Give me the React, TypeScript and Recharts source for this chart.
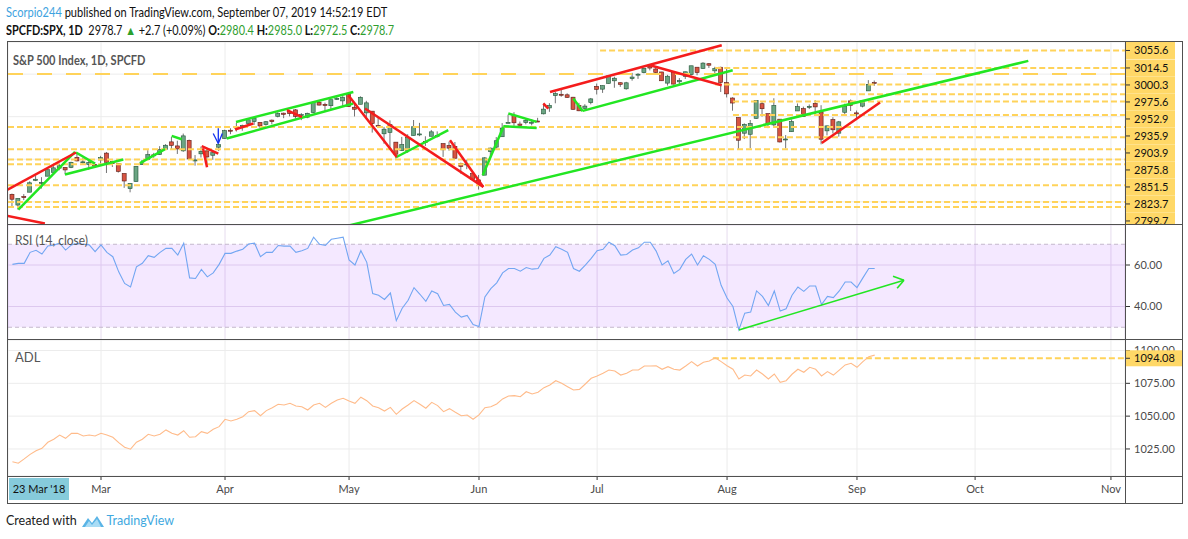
import React from "react";
import {
  ComposedChart,
  Bar,
  Line,
  XAxis,
  YAxis,
  CartesianGrid,
  ReferenceLine,
  ReferenceArea,
} from "recharts";

// ---- data (trading-day index 0 = 1 Mar 2019) ----
const FIRST = -15;
const MONTH_TICKS = [0, 21, 42, 64, 84, 106, 128, 148, 171];
const MONTH_LABELS = ["Mar", "Apr", "May", "Jun", "Jul", "Aug", "Sep", "Oct", "Nov"];

const OPEN = [
  2717.5, 2692.4, 2712.4, 2722.6, 2750.3, 2743.5, 2760.2, 2769.3, 2779.1, 2780.7, 2780.7, 2804.4, 2792.4, 2787.5, 2788.1,
  2798.2, 2814.4, 2794.4, 2790.3, 2766.5, 2730.8, 2747.6, 2787.3, 2799.8, 2810.4, 2810.8, 2822.6, 2840.8, 2831.3, 2819.7, 2844.5, 2796.0, 2812.7, 2819.7, 2809.4, 2828.3,
  2848.6, 2868.2, 2876.1, 2874.0, 2884.2, 2888.5, 2886.6, 2881.4, 2891.9, 2900.9, 2908.3, 2912.3, 2916.0, 2904.8, 2898.8, 2910.0, 2934.0, 2929.0, 2925.8, 2940.6, 2937.1,
  2952.3, 2922.2, 2929.2, 2908.9, 2913.0, 2879.6, 2859.8, 2863.1, 2840.2, 2820.1, 2820.4, 2855.8, 2858.6, 2841.9, 2854.0, 2856.1, 2836.7, 2832.4, 2830.0, 2790.3,
  2786.9, 2766.2, 2751.5, 2762.6, 2818.1, 2828.5, 2852.9, 2885.8, 2903.3, 2882.7, 2886.2, 2886.8, 2889.8, 2906.7, 2920.6, 2949.6, 2952.7, 2951.4, 2945.8, 2926.1, 2919.7, 2932.9,
  2971.4, 2964.7, 2978.1, 2984.3, 2979.8, 2965.5, 2989.3, 2999.6, 3003.4, 3017.8, 3012.1, 3005.1, 2978.9, 3004.3, 2981.9, 2994.7, 2998.8, 3016.3, 3013.3, 3024.5, 3007.7, 3016.2,
  2980.3, 2943.9, 2898.1, 2861.2, 2858.7, 2896.2, 2930.5, 2907.1, 2880.7, 2894.2, 2846.2, 2864.7, 2913.5, 2919.0, 2922.0, 2930.9, 2911.1, 2866.7, 2893.1, 2861.3, 2910.4, 2937.1, 2909.0, 2924.7, 2960.6, 2980.3,
];
const HIGH = [
  2719.3, 2708.1, 2718.1, 2748.2, 2761.9, 2757.9, 2775.7, 2787.3, 2789.9, 2781.5, 2794.2, 2813.5, 2803.1, 2795.8, 2793.7,
  2808.0, 2816.9, 2796.4, 2790.3, 2766.5, 2744.1, 2784.0, 2798.3, 2821.2, 2815.0, 2830.7, 2835.4, 2852.4, 2843.5, 2860.3, 2846.2, 2809.8, 2829.9, 2825.6, 2819.7, 2836.0,
  2869.4, 2872.9, 2885.3, 2881.3, 2893.2, 2896.0, 2886.9, 2889.7, 2893.4, 2910.5, 2909.6, 2916.1, 2918.0, 2908.4, 2909.5, 2936.3, 2936.8, 2933.1, 2939.9, 2949.5, 2948.2,
  2954.1, 2931.7, 2947.9, 2937.3, 2913.0, 2898.0, 2876.0, 2891.3, 2840.2, 2852.5, 2858.7, 2892.2, 2885.5, 2853.9, 2868.9, 2865.5, 2836.7, 2841.4, 2840.5, 2792.0,
  2799.0, 2769.0, 2763.1, 2804.5, 2827.3, 2852.1, 2885.0, 2904.8, 2910.6, 2888.6, 2895.2, 2894.5, 2897.3, 2930.8, 2931.7, 2958.1, 2964.2, 2954.9, 2946.5, 2932.6, 2929.3, 2944.0,
  2977.9, 2973.2, 2995.8, 2994.0, 2980.8, 2981.9, 3003.0, 3002.3, 3013.9, 3017.8, 3015.0, 3005.3, 2998.3, 3006.5, 2990.7, 3005.9, 3019.6, 3016.3, 3028.0, 3025.6, 3017.2, 3017.4,
  3013.6, 2945.5, 2898.1, 2884.4, 2892.2, 2938.7, 2935.8, 2907.6, 2943.3, 2894.2, 2856.7, 2893.6, 2931.0, 2923.6, 2928.7, 2939.1, 2927.0, 2879.3, 2898.8, 2890.0, 2930.5, 2940.4, 2914.4, 2938.8, 2985.9, 2985.0,
];
const LOW = [
  2687.3, 2681.8, 2703.9, 2722.6, 2748.6, 2731.2, 2760.2, 2767.3, 2774.1, 2764.6, 2779.1, 2794.9, 2789.5, 2775.1, 2782.5,
  2787.4, 2767.7, 2782.0, 2768.7, 2732.8, 2722.3, 2747.6, 2786.7, 2799.8, 2803.5, 2810.8, 2821.9, 2823.3, 2812.4, 2817.4, 2800.2, 2785.0, 2804.0, 2787.7, 2798.8, 2819.2,
  2848.6, 2858.8, 2865.2, 2867.1, 2883.0, 2880.8, 2873.3, 2879.1, 2882.0, 2898.4, 2896.5, 2900.7, 2895.5, 2891.9, 2896.4, 2908.5, 2926.1, 2912.8, 2917.6, 2939.4, 2924.1,
  2923.4, 2900.5, 2929.2, 2898.2, 2862.6, 2873.3, 2836.4, 2825.4, 2801.4, 2820.1, 2815.1, 2855.8, 2854.2, 2831.3, 2854.0, 2851.1, 2805.5, 2820.2, 2801.6, 2766.1,
  2776.7, 2750.5, 2728.8, 2762.6, 2800.9, 2822.5, 2852.9, 2885.5, 2878.5, 2874.7, 2882.0, 2879.6, 2887.3, 2905.4, 2911.4, 2931.5, 2946.9, 2944.1, 2916.0, 2913.0, 2918.6, 2929.1,
  2952.2, 2955.9, 2978.0, 2968.0, 2970.1, 2963.4, 2984.6, 2988.8, 3001.9, 3008.8, 3001.2, 2984.3, 2973.1, 2975.9, 2976.7, 2988.6, 2996.8, 2997.2, 3012.6, 3014.5, 3000.9, 2958.1,
  2945.2, 2914.1, 2822.1, 2847.4, 2825.7, 2894.5, 2900.2, 2873.1, 2877.1, 2839.6, 2825.5, 2864.7, 2913.5, 2899.6, 2917.9, 2904.5, 2835.0, 2856.0, 2860.6, 2853.1, 2905.7, 2913.3, 2891.9, 2921.9, 2960.6, 2972.5,
];
const CLOSE = [
  2706.1, 2707.9, 2709.8, 2744.7, 2753.0, 2745.7, 2775.6, 2779.8, 2784.7, 2774.9, 2792.7, 2796.1, 2793.9, 2792.4, 2784.5,
  2803.7, 2792.8, 2789.7, 2771.5, 2748.9, 2743.1, 2783.3, 2791.5, 2810.9, 2808.5, 2822.5, 2832.9, 2832.6, 2824.2, 2854.9, 2800.7, 2798.4, 2818.5, 2805.4, 2815.4, 2834.4,
  2867.2, 2867.2, 2873.4, 2879.4, 2892.7, 2895.8, 2878.2, 2888.2, 2888.3, 2907.4, 2905.6, 2907.1, 2900.5, 2905.0, 2908.0, 2933.7, 2927.3, 2926.2, 2939.9, 2943.0, 2945.8,
  2923.7, 2917.5, 2945.6, 2932.5, 2884.1, 2879.4, 2870.7, 2881.4, 2811.9, 2834.4, 2851.0, 2876.3, 2859.5, 2840.2, 2864.4, 2856.3, 2822.2, 2826.1, 2802.4, 2783.0,
  2788.9, 2752.1, 2744.5, 2803.3, 2826.2, 2843.5, 2873.3, 2886.7, 2885.7, 2879.8, 2891.6, 2887.0, 2889.7, 2917.8, 2926.5, 2954.2, 2950.5, 2945.4, 2917.4, 2913.8, 2924.9, 2941.8,
  2964.3, 2973.0, 2995.8, 2990.4, 2976.0, 2979.6, 2993.1, 2999.9, 3013.8, 3014.3, 3004.0, 2984.4, 2995.1, 2976.6, 2985.0, 3005.5, 3019.6, 3003.7, 3025.9, 3021.0, 3013.2, 2980.4,
  2953.6, 2932.1, 2844.7, 2881.8, 2884.0, 2938.1, 2918.7, 2882.7, 2926.3, 2840.6, 2847.6, 2888.7, 2923.7, 2900.5, 2924.4, 2923.0, 2847.1, 2878.4, 2869.2, 2887.9, 2924.6, 2926.5, 2906.3, 2937.8, 2976.0, 2978.7,
];
const RSI = [
  60.3, 60.8, 60.8, 66.1, 67.1, 65.3, 69.2, 69.6, 70.5, 67.2, 69.7, 70.5, 70.0, 69.7, 66.4,
  69.7, 66.1, 64.0, 56.7, 51.1, 49.4, 59.1, 60.8, 64.5, 63.7, 66.1, 68.0, 68.0, 64.8, 70.5, 53.8, 53.5, 57.9, 54.3, 56.2, 60.3,
  65.6, 65.6, 66.7, 67.6, 70.1, 70.5, 64.0, 66.1, 66.1, 69.4, 69.1, 69.1, 66.1, 66.9, 68.0, 73.4, 70.0, 69.5, 72.4, 72.9, 73.4,
  62.4, 60.0, 66.9, 61.3, 46.2, 45.4, 43.4, 46.5, 33.2, 39.2, 43.0, 49.1, 45.9, 42.5, 47.5, 46.2, 40.5, 41.0, 37.3, 34.9,
  35.7, 31.3, 30.3, 44.6, 48.6, 51.4, 56.2, 58.3, 58.3, 57.0, 58.8, 58.0, 58.3, 63.2, 64.8, 68.8, 67.6, 66.1, 58.3, 57.0, 60.0, 63.2,
  66.9, 67.6, 71.0, 69.3, 64.8, 65.1, 67.2, 68.3, 71.0, 71.0, 66.7, 60.0, 62.0, 55.9, 57.9, 62.7, 65.3, 60.0, 64.5, 62.7, 60.3, 50.2,
  44.1, 40.0, 28.7, 36.8, 37.3, 47.5, 44.9, 40.5, 47.5, 37.8, 38.9, 45.4, 49.4, 47.3, 49.9, 49.9, 40.9, 44.9, 44.3, 47.5, 51.8, 51.8, 49.1, 53.8, 58.3, 58.3,
];
const ADL = [
  1015.3, 1014.1, 1017.4, 1020.9, 1023.7, 1025.5, 1030.1, 1032.4, 1035.6, 1033.1, 1036.9, 1036.9, 1034.9, 1035.6, 1034.9,
  1036.9, 1035.6, 1033.9, 1029.8, 1026.3, 1024.8, 1030.1, 1032.4, 1036.2, 1034.9, 1036.2, 1039.5, 1036.9, 1035.6, 1038.9, 1033.9, 1034.3, 1038.2, 1036.9, 1040.0, 1042.0,
  1047.6, 1046.3, 1047.6, 1049.6, 1053.4, 1054.2, 1050.3, 1054.2, 1056.4, 1059.0, 1058.5, 1059.8, 1057.7, 1057.2, 1054.7, 1058.5, 1059.8, 1056.7, 1059.8, 1062.3, 1063.6,
  1061.5, 1059.8, 1064.4, 1061.8, 1057.7, 1056.4, 1053.9, 1056.7, 1051.4, 1055.4, 1058.5, 1061.8, 1059.0, 1056.0, 1060.5, 1058.0, 1053.4, 1055.7, 1052.9, 1050.3,
  1050.9, 1047.6, 1050.9, 1056.4, 1057.2, 1059.3, 1063.1, 1065.3, 1065.6, 1064.8, 1068.6, 1066.9, 1068.2, 1071.7, 1073.7, 1077.0, 1075.0, 1072.4, 1069.9, 1070.4, 1074.5, 1078.8,
  1080.6, 1082.6, 1085.1, 1084.4, 1081.3, 1082.6, 1085.1, 1085.1, 1088.2, 1088.2, 1088.4, 1085.7, 1087.7, 1085.7, 1085.1, 1088.2, 1091.5, 1088.2, 1091.0, 1092.0, 1094.5, 1091.5,
  1088.4, 1085.7, 1078.3, 1081.3, 1080.6, 1085.1, 1082.1, 1078.3, 1082.1, 1075.8, 1077.0, 1081.9, 1085.7, 1083.4, 1087.2, 1085.7, 1080.6, 1083.9, 1081.3, 1085.1, 1089.0, 1090.3, 1087.2, 1091.5, 1095.3, 1096.5,
];

// horizontal levels drawn on the price pane: value and first bar index
const LEVELS = [3055.6, 3014.5, 3000.3, 2975.6, 2952.9, 2935.9, 2903.9, 2875.8, 2851.5, 2823.7, 2799.7, 2788.3, 2738.9, 2699.7, 2688.0];
const LEVEL_FROM = [84.5, 104, -16, 104, 107, 107, 107, -16, 107, -16, -16, -16, -16, -16, -16];
const LONG_DASH_LEVEL = 3000.3;
const PRICE_GRID = [2700, 2800, 2900, 3000];

// drawn trend lines [i1, price1, i2, price2]
const GREEN_LINES = [
  [-14.0, 2681.9, -4.4, 2817.2],
  [-4.23, 2815.8, -1.02, 2789.9],
  [-6.1, 2764.1, 3.78, 2799.3],
  [6.6, 2790.7, 10.84, 2823.6],
  [11.97, 2854.8, 13.66, 2847.0],
  [22.86, 2887.7, 42.72, 2958.2],
  [21.28, 2848.7, 42.72, 2930.9],
  [49.95, 2804.7, 58.8, 2868.2],
  [64.63, 2762.5, 68.12, 2876.0],
  [68.12, 2877.6, 73.77, 2873.6],
  [68.96, 2907.4, 73.77, 2887.7],
  [79.97, 2942.7, 81.56, 2912.9],
  [81.56, 2913.6, 106.96, 3009.2],
  [42.16, 2645.0, 157.01, 3031.1],
];
const RED_LINES = [
  [-15.8, 2728.8, -4.23, 2815.8],
  [-15.8, 2666.8, -9.5, 2649.0],
  [17.27, 2825.9, 17.95, 2781.3],
  [17.05, 2830.6, 19.86, 2813.4],
  [22.69, 2869.8, 25.79, 2884.0],
  [31.49, 2915.2, 34.03, 2898.8],
  [41.87, 2950.5, 50.07, 2805.5],
  [44.7, 2919.2, 64.73, 2735.0],
  [59.09, 2844.7, 64.73, 2735.0],
  [74.89, 2931.0, 75.74, 2919.2],
  [76.02, 2958.2, 105.1, 3067.9],
  [92.96, 3020.9, 105.1, 2974.0],
  [122.03, 2838.4, 131.9, 2933.3],
];
const BLUE_ARROW = [
  [19.0, 2860.4, 19.86, 2836.9],
  [20.54, 2860.4, 19.86, 2836.9],
  [19.86, 2872.9, 19.86, 2836.9],
];
const RSI_ARROW = [
  [108, 28.7, 135.96, 52.7],
  [134.1, 54.6, 135.96, 52.7],
  [134.8, 48.8, 135.96, 52.7],
];
const ADL_LEVEL = 1094.08;
const ADL_LEVEL_FROM = 103.6;

// ---- layout ----
const XMIN = -15.747;
const XMAX = 173.38;
const CHART_W = 1174;
const AXIS_W = 57;
const AXIS_X = CHART_W - AXIS_W;
const PRICE_H = 183;
const PMIN = 2645.5;
const PMAX = 3075.5;
const RSI_MIN = 23.86;
const RSI_MAX = 79.28;
const ADL_MIN = 1004.4;
const ADL_MAX = 1108;

const FONT = "Lato, 'Open Sans', sans-serif";
const UP = "#6ba583";
const UP_B = "#225437";
const DOWN = "#d75442";
const DOWN_B = "#5b1a13";
const LEVEL_C = "#ffd35a";
const LABEL_BG = "#ffd867";
const GREEN = "#22e622";
const RED = "#f41c1c";

const rows = OPEN.map((o, k) => ({
  i: FIRST + k,
  open: o,
  high: HIGH[k],
  low: LOW[k],
  close: CLOSE[k],
  rsi: RSI[k],
  adl: ADL[k],
}));

const priceToY = (v: number) => ((PMAX - v) / (PMAX - PMIN)) * PRICE_H;
const stackedY = (() => {
  const m = new Map<number, number>();
  let prev = -Infinity;
  [...LEVELS].sort((a, b) => b - a).forEach((v) => {
    const y = Math.max(priceToY(v), prev + 17);
    m.set(v, y);
    prev = y;
  });
  return m;
})();

const Candle = (props: any) => {
  const { x, y, width, height, payload } = props;
  if (!payload) return null;
  const { open, close, high, low } = payload;
  const top = Math.min(y, y + height);
  const h = Math.abs(height);
  const cx = x + width / 2;
  const span = high - low;
  const py = (v: number) => (span === 0 ? top : top + ((high - v) / span) * h);
  const up = close >= open;
  const bt = py(Math.max(open, close));
  const bb = py(Math.min(open, close));
  return (
    <g>
      <line x1={cx} x2={cx} y1={top} y2={top + h} stroke="#737375" strokeWidth={1} />
      <rect
        x={cx - 2}
        y={bt}
        width={4}
        height={Math.max(1, bb - bt)}
        fill={up ? UP : DOWN}
        stroke={up ? UP_B : DOWN_B}
        strokeWidth={0.6}
      />
    </g>
  );
};

const LevelTick = (props: any) => {
  const { y, payload } = props;
  const v = payload.value as number;
  const sy = y + ((stackedY.get(v) ?? priceToY(v)) - priceToY(v));
  if (sy - 8.5 > PRICE_H) return <g />;
  const x = AXIS_X;
  return (
    <g>
      <rect x={x + 1} y={sy - 8.5} width={49} height={17} fill={LABEL_BG} />
      <line x1={x} x2={x + 5} y1={sy} y2={sy} stroke="#333" />
      <text x={x + 9} y={sy} dy="0.35em" fontSize={11} fill="#111" fontFamily={FONT}>
        {v.toFixed(1)}
      </text>
    </g>
  );
};

const AdlTick = (props: any) => {
  const { y, payload } = props;
  const v = payload.value as number;
  const hl = v === ADL_LEVEL;
  const x = AXIS_X;
  return (
    <g>
      {hl && <rect x={x + 1} y={y - 8} width={56} height={16} fill={LABEL_BG} />}
      <line x1={x} x2={x + 5} y1={y} y2={y} stroke="#333" />
      <text x={x + 9} y={y} dy="0.35em" fontSize={11} fill={hl ? "#111" : "#4a4a4a"} fontFamily={FONT}>
        {v.toFixed(2)}
      </text>
    </g>
  );
};

const seg = (l: number[]) => [
  { x: l[0], y: l[1] },
  { x: l[2], y: l[3] },
];

const abs = (left: number, top: number, extra: React.CSSProperties = {}): React.CSSProperties => ({
  position: "absolute",
  left,
  top,
  ...extra,
});

const narrow = (k: number): React.CSSProperties => ({ transform: `scaleX(${k})`, transformOrigin: "0 50%" });

export default function App() {
  return (
    <div
      style={{
        position: "absolute",
        left: 0,
        top: 0,
        width: 1188,
        height: 539,
        background: "#fff",
        fontFamily: FONT,
        color: "#222",
        overflow: "hidden",
      }}
    >
      {/* header */}
      <div style={abs(6, 4, { fontSize: 12.5, whiteSpace: "nowrap", lineHeight: "18px", color: "#111", ...narrow(0.885) })}>
        <span style={{ color: "#3ea3e0" }}>Scorpio244</span> published on TradingView.com, September 07, 2019 14:52:19 EDT
      </div>
      <div style={abs(6, 22, { fontSize: 12.5, whiteSpace: "nowrap", lineHeight: "18px", color: "#111", ...narrow(0.87) })}>
        <b>SPCFD:SPX, 1D</b>&nbsp; 2978.7 <span style={{ color: "#2ca02c" }}>▲</span> +2.7 (+0.09%) <b>O:</b>
        <span style={{ color: "#2f9e2f" }}>2980.4</span> <b>H:</b>
        <span style={{ color: "#2f9e2f" }}>2985.0</span> <b>L:</b>
        <span style={{ color: "#2f9e2f" }}>2972.5</span> <b>C:</b>
        <span style={{ color: "#2f9e2f" }}>2978.7</span>
      </div>

      {/* price pane */}
      <div style={abs(8, 42)}>
        <ComposedChart width={CHART_W} height={PRICE_H} data={rows} margin={{ top: 0, right: 0, bottom: 0, left: 0 }}>
          <XAxis dataKey="i" type="number" domain={[XMIN, XMAX]} allowDataOverflow hide ticks={MONTH_TICKS} />
          <YAxis yAxisId="grid" orientation="right" domain={[PMIN, PMAX]} ticks={PRICE_GRID} hide allowDataOverflow />
          <YAxis
            yAxisId="p"
            orientation="right"
            width={AXIS_W}
            domain={[PMIN, PMAX]}
            ticks={LEVELS}
            interval={0}
            tick={(p: any) => <LevelTick {...p} />}
            tickSize={0}
            tickMargin={0}
            axisLine={false}
            tickLine={false}
            allowDataOverflow
          />
          <CartesianGrid yAxisId="grid" stroke="#ececec" />
          {LEVELS.map((v, k) => (
            <ReferenceLine
              key={"lv" + k}
              yAxisId="p"
              segment={[
                { x: Math.max(LEVEL_FROM[k], XMIN), y: v },
                { x: XMAX, y: v },
              ]}
              stroke={LEVEL_C}
              strokeWidth={2}
              strokeDasharray={v === LONG_DASH_LEVEL ? "15 14" : "6 3"}
              ifOverflow="hidden"
            />
          ))}
          <Bar yAxisId="p" dataKey={(d: any) => [d.low, d.high]} barSize={5} shape={Candle} isAnimationActive={false} />
          {GREEN_LINES.map((l, k) => (
            <ReferenceLine key={"g" + k} yAxisId="p" segment={seg(l)} stroke={GREEN} strokeWidth={2.5} ifOverflow="hidden" />
          ))}
          {RED_LINES.map((l, k) => (
            <ReferenceLine key={"r" + k} yAxisId="p" segment={seg(l)} stroke={RED} strokeWidth={2.5} ifOverflow="hidden" />
          ))}
          {BLUE_ARROW.map((l, k) => (
            <ReferenceLine key={"b" + k} yAxisId="p" segment={seg(l)} stroke="#1030f0" strokeWidth={1.3} ifOverflow="hidden" />
          ))}
        </ComposedChart>
      </div>

      {/* RSI pane */}
      <div style={abs(8, 225)}>
        <ComposedChart width={CHART_W} height={115} data={rows} margin={{ top: 0, right: 0, bottom: 0, left: 0 }}>
          <XAxis dataKey="i" type="number" domain={[XMIN, XMAX]} allowDataOverflow hide ticks={MONTH_TICKS} />
          <YAxis
            orientation="right"
            width={AXIS_W}
            domain={[RSI_MIN, RSI_MAX]}
            ticks={[40, 60]}
            interval={0}
            allowDataOverflow
            axisLine={false}
            tickLine={{ stroke: "#333" }}
            tickSize={5}
            tickMargin={4}
            tick={{ fontSize: 11, fill: "#4a4a4a", fontFamily: FONT }}
            tickFormatter={(v: number) => v.toFixed(2)}
          />
          <ReferenceArea y1={30} y2={70} x1={XMIN} x2={XMAX} fill="#9b30ff" fillOpacity={0.11} stroke="none" ifOverflow="hidden" />
          <CartesianGrid stroke="#e6dcee" />
          <ReferenceLine y={70} stroke="#c4b8cc" strokeDasharray="4 3" />
          <ReferenceLine y={30} stroke="#c4b8cc" strokeDasharray="4 3" />
          <Line dataKey="rsi" type="linear" stroke="#72a6f2" strokeWidth={1.1} dot={false} isAnimationActive={false} />
          {RSI_ARROW.map((l, k) => (
            <ReferenceLine key={"ra" + k} segment={seg(l)} stroke={GREEN} strokeWidth={1.6} ifOverflow="hidden" />
          ))}
        </ComposedChart>
      </div>

      {/* ADL pane + time axis */}
      <div style={abs(8, 340)}>
        <ComposedChart width={CHART_W} height={163} data={rows} margin={{ top: 0, right: 0, bottom: 0, left: 0 }}>
          <XAxis
            dataKey="i"
            type="number"
            domain={[XMIN, XMAX]}
            allowDataOverflow
            ticks={MONTH_TICKS}
            interval={0}
            height={27}
            axisLine={false}
            tickLine={{ stroke: "#333" }}
            tickSize={4}
            tickMargin={5}
            tick={{ fontSize: 11, fill: "#4a4a4a", fontFamily: FONT }}
            tickFormatter={(v: number) => MONTH_LABELS[MONTH_TICKS.indexOf(v)] ?? ""}
          />
          <YAxis yAxisId="grid" orientation="right" domain={[ADL_MIN, ADL_MAX]} ticks={[1025, 1050, 1075, 1100]} hide allowDataOverflow />
          <YAxis
            yAxisId="a"
            orientation="right"
            width={AXIS_W}
            domain={[ADL_MIN, ADL_MAX]}
            ticks={[1025, 1050, 1075, 1100, ADL_LEVEL]}
            interval={0}
            tick={(p: any) => <AdlTick {...p} />}
            tickSize={0}
            tickMargin={0}
            axisLine={false}
            tickLine={false}
            allowDataOverflow
          />
          <CartesianGrid yAxisId="grid" stroke="#ececec" />
          <ReferenceLine
            yAxisId="a"
            segment={[
              { x: ADL_LEVEL_FROM, y: ADL_LEVEL },
              { x: XMAX, y: ADL_LEVEL },
            ]}
            stroke={LEVEL_C}
            strokeWidth={2}
            strokeDasharray="6 3"
            ifOverflow="hidden"
          />
          <Line yAxisId="a" dataKey="adl" type="linear" stroke="#ffbb8a" strokeWidth={1.1} dot={false} isAnimationActive={false} />
        </ComposedChart>
      </div>

      {/* pane titles */}
      <div style={abs(13, 52, { fontSize: 13, fontWeight: 700, color: "#555", whiteSpace: "nowrap", ...narrow(0.85) })}>
        S&amp;P 500 Index, 1D, SPCFD
      </div>
      <div style={abs(15, 232, { fontSize: 13, color: "#555", whiteSpace: "nowrap", ...narrow(0.92) })}>RSI (14, close)</div>
      <div style={abs(15, 349, { fontSize: 13, color: "#555" })}>ADL</div>

      {/* frame */}
      <div style={abs(7, 41, { width: 1176, height: 463, border: "1px solid #505050", boxSizing: "border-box" })} />
      <div style={abs(7, 224, { width: 1176, height: 1, background: "#505050" })} />
      <div style={abs(7, 339, { width: 1176, height: 1, background: "#505050" })} />
      <div style={abs(7, 476, { width: 1176, height: 1, background: "#505050" })} />
      <div style={abs(1125, 41, { width: 1, height: 463, background: "#505050" })} />

      {/* crosshair date tag */}
      <div
        style={abs(9, 478, {
          width: 60,
          height: 22,
          background: "#86cbdb",
          fontSize: 11,
          lineHeight: "22px",
          textAlign: "center",
          color: "#111",
        })}
      >
        23 Mar '18
      </div>

      {/* footer */}
      <div style={abs(6, 512, { fontSize: 12.5, lineHeight: "18px", whiteSpace: "nowrap", display: "flex", alignItems: "center" })}>
        <span>Created with</span>
        <svg width={24} height={16} style={{ margin: "0 2px 0 4px" }}>
          <path d="M1 14 L7 5 L11 10 L16 3 L23 14 Z" fill="#5ab4e6" />
          <path d="M4 14 L8 8 L11 12 L16 6 L20 14 Z" fill="#a9dcf5" />
        </svg>
        <span style={{ color: "#3fa9e0" }}>TradingView</span>
      </div>
    </div>
  );
}
